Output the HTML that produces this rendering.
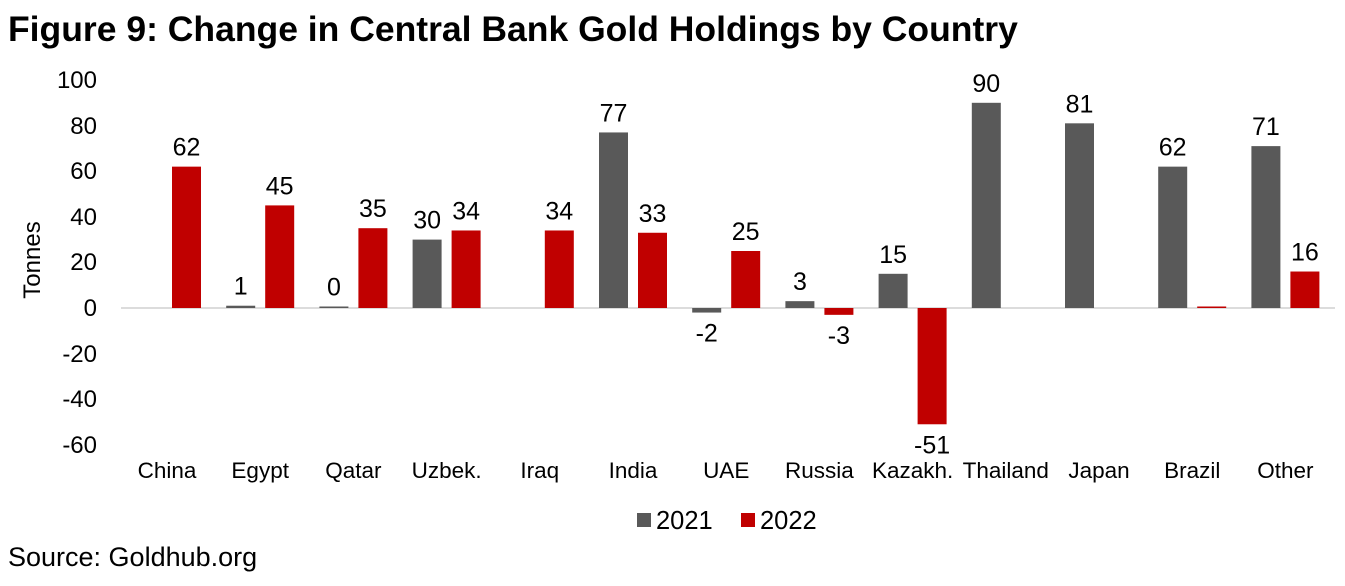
<!DOCTYPE html>
<html><head><meta charset="utf-8"><style>
body{margin:0;background:#fff;}
svg{display:block;font-family:"Liberation Sans",Arial,sans-serif;}
</style></head><body>
<svg width="1345" height="586" viewBox="0 0 1345 586" xmlns="http://www.w3.org/2000/svg">
<text x="8" y="41" font-size="35.5" font-weight="bold" fill="#000">Figure 9: Change in Central Bank Gold Holdings by Country</text>
<g font-size="24" fill="#000" text-anchor="end">
<text x="97" y="88">100</text><text x="97" y="134">80</text><text x="97" y="179">60</text>
<text x="97" y="225">40</text><text x="97" y="270">20</text><text x="97" y="316">0</text>
<text x="97" y="362">-20</text><text x="97" y="407">-40</text><text x="97" y="453">-60</text>
</g>
<text transform="translate(40,260) rotate(-90)" font-size="24" text-anchor="middle">Tonnes</text>
<line x1="121" y1="308" x2="1335" y2="308" stroke="#d0d0d0" stroke-width="1.5"/>
<g id="bars"></g>
<g font-size="22.5" text-anchor="middle" fill="#000" id="cats"></g>
<g font-size="25" text-anchor="middle" fill="#000" id="vals"></g>
<rect x="637" y="513" width="14" height="14" fill="#595959"/>
<text x="656" y="529" font-size="25.5">2021</text>
<rect x="741" y="513" width="14" height="14" fill="#c00000"/>
<text x="760" y="529" font-size="25.5">2022</text>
<text x="8" y="566" font-size="27">Source: Goldhub.org</text>
<script>
var d=[["China",null,62],["Egypt",1,45],["Qatar",0,35],["Uzbek.",30,34],["Iraq",null,34],["India",77,33],["UAE",-2,25],["Russia",3,-3],["Kazakh.",15,-51],["Thailand",90,null],["Japan",81,null],["Brazil",62,0],["Other",71,16]];
var ns="http://www.w3.org/2000/svg",z=308,s=2.28;
function el(p,t,a,txt){var e=document.createElementNS(ns,t);for(var k in a)e.setAttribute(k,a[k]);if(txt!=null)e.textContent=txt;document.getElementById(p).appendChild(e);}
d.forEach(function(r,i){var c=167+i*93.2;
el("cats","text",{x:c,y:478},r[0]);
[[r[1],c-34,"#595959"],[r[2],c+5,"#c00000"]].forEach(function(b,j){var v=b[0];if(v==null)return;
var h=Math.max(Math.abs(v)*s,1.5);var y=v>=0?z-h:z;
el("bars","rect",{x:b[1],y:y,width:29,height:h,fill:b[2]});
if(j==1&&r[0]=="Brazil")return;
var ly=v>=0?z-h-11:z+h+29;
el("vals","text",{x:b[1]+14.5,y:ly},String(v));});});
</script>
</svg>
</body></html>
